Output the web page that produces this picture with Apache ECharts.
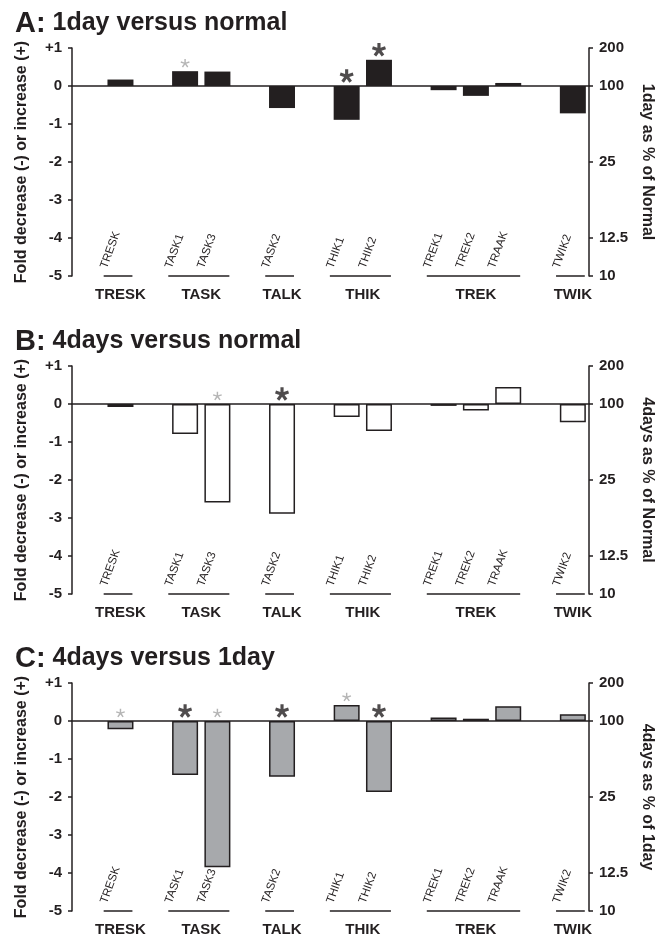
<!DOCTYPE html>
<html>
<head>
<meta charset="utf-8">
<script src="https://cdn.jsdelivr.net/npm/echarts@6/dist/echarts.min.js"></script>
<style>
    html, body { margin: 0; padding: 0; background: #fff; }
    #chart { width: 664px; height: 939px; }
</style>
</head>
<body>
<div id="chart"></div>
<script>
// category slots (blank ones are the gaps between families)
const slots = ['', 'TRESK', '', 'TASK1', 'TASK3', '', 'TASK2', '', 'THIK1', 'THIK2', '', 'TREK1', 'TREK2', 'TRAAK', '', 'TWIK2'];
const genes = ['TRESK', 'TASK1', 'TASK3', 'TASK2', 'THIK1', 'THIK2', 'TREK1', 'TREK2', 'TRAAK', 'TWIK2'];

// families drawn under the genes
const groupNames = ['TRESK', 'TASK', 'TALK', 'THIK', 'TREK', 'TWIK'];
const groupFirst = ['TRESK', 'TASK1', 'TASK2', 'THIK1', 'TREK1', 'TWIK2'];
const groupLast = ['TRESK', 'TASK3', 'TASK2', 'THIK2', 'TRAAK', 'TWIK2'];

// right axis tick labels
const rightTickValues = [1, 0, -2, -4, -5];
const rightTickLabels = ['200', '100', '25', '12.5', '10'];

// fold change values (0 = none, 1 = grey star, 2 = black star)
const oneDayVsNormal = [0.17, 0.39, 0.38, -0.58, -0.89, 0.69, -0.11, -0.26, 0.08, -0.72];
const oneDayVsNormalSig = [0, 1, 0, 0, 2, 2, 0, 0, 0, 0];
const fourDaysVsNormal = [-0.08, -0.79, -2.59, -2.89, -0.34, -0.71, -0.05, -0.17, 0.45, -0.48];
const fourDaysVsNormalSig = [0, 0, 1, 2, 0, 0, 0, 0, 0, 0];
const fourDaysVsOneDay = [-0.22, -1.42, -3.85, -1.47, 0.42, -1.87, 0.09, 0.06, 0.39, 0.18];
const fourDaysVsOneDaySig = [1, 2, 1, 2, 1, 2, 0, 0, 0, 0];

const panelLetters = ['A:', 'B:', 'C:'];
const panelTitles = ['1day versus normal', '4days versus normal', '4days versus 1day'];
const rightNames = ['1day as % of Normal', '4days as % of Normal', '4days as % of 1day'];

const INK = '#231f20';
const FONT = '"Liberation Sans", Arial, Helvetica, sans-serif';
const gridTops = [48, 366, 683];

renderChart();

function asteriskPath(armHalf) {
    // 5 armed asterisk, radius 10
    const r = 10;
    let pts = [];
    for (let k = 0; k < 5; k++) {
        const a = (-90 + 72 * k) * Math.PI / 180;
        const ca = Math.cos(a), sa = Math.sin(a);
        const px = -sa, py = ca;
        pts.push([r * ca - armHalf * px, r * sa - armHalf * py]);
        pts.push([r * ca + armHalf * px, r * sa + armHalf * py]);
        const b = a + 36 * Math.PI / 180;
        const d = armHalf / Math.sin(36 * Math.PI / 180);
        pts.push([d * Math.cos(b), d * Math.sin(b)]);
    }
    return 'path://M' + pts.map(p => p[0].toFixed(2) + ' ' + p[1].toFixed(2)).join(' L') + ' Z';
}

function renderChart() {
    let chart = echarts.init(document.getElementById('chart'));

    const panels = [
        {values: oneDayVsNormal, sig: oneDayVsNormalSig, fill: INK, border: 0},
        {values: fourDaysVsNormal, sig: fourDaysVsNormalSig, fill: '#ffffff', border: 1.5},
        {values: fourDaysVsOneDay, sig: fourDaysVsOneDaySig, fill: '#a7a9ac', border: 1.5}
    ];

    const blackStar = asteriskPath(2.3);
    const greyStar = asteriskPath(1.6);

    let title = [], grid = [], xAxis = [], yAxis = [], series = [];

    panels.forEach(function (panel, i) {
        title.push({
            text: '{a|' + panelLetters[i] + '} ' + panelTitles[i],
            left: 10,
            top: gridTops[i] - 44,
            textStyle: {
                fontFamily: FONT, fontSize: 25, fontWeight: 'bold', color: INK,
                rich: {a: {fontFamily: FONT, fontSize: 29, fontWeight: 'bold', color: INK}}
            }
        });

        grid.push({left: 72, right: 75, top: gridTops[i], height: 228});

        xAxis.push({
            gridIndex: i,
            type: 'category',
            data: slots,
            axisLine: {onZero: true, lineStyle: {color: INK, width: 1.5}},
            axisTick: {show: false},
            axisLabel: {show: false},
            splitLine: {show: false}
        });

        yAxis.push({
            gridIndex: i,
            type: 'value',
            position: 'left',
            min: -5, max: 1, interval: 1,
            name: 'Fold decrease (-) or increase (+)',
            nameLocation: 'middle',
            nameRotate: 90,
            nameGap: 42,
            nameTextStyle: {fontFamily: FONT, fontSize: 16, fontWeight: 'bold', color: INK},
            axisLine: {show: true, onZero: false, lineStyle: {color: INK, width: 1.5}},
            axisTick: {show: true, length: 4, lineStyle: {color: INK, width: 1.5}},
            axisLabel: {
                fontFamily: FONT, fontSize: 15, fontWeight: 'bold', color: INK, margin: 10,
                formatter: v => v > 0 ? '+' + v : String(v)
            },
            splitLine: {show: false}
        });

        yAxis.push({
            gridIndex: i,
            type: 'value',
            position: 'right',
            min: -5, max: 1, interval: 1,
            name: rightNames[i],
            nameLocation: 'middle',
            nameRotate: -90,
            nameGap: 49,
            nameTextStyle: {fontFamily: FONT, fontSize: 16, fontWeight: 'bold', color: INK},
            axisLine: {show: true, onZero: false, lineStyle: {color: INK, width: 1.5}},
            axisTick: {show: true, length: 4, customValues: rightTickValues, lineStyle: {color: INK, width: 1.5}},
            axisLabel: {
                fontFamily: FONT, fontSize: 15, fontWeight: 'bold', color: INK, margin: 10,
                customValues: rightTickValues,
                formatter: v => rightTickLabels[rightTickValues.indexOf(v)]
            },
            splitLine: {show: false}
        });

        // bars
        series.push({
            type: 'bar',
            xAxisIndex: i,
            yAxisIndex: 2 * i,
            barWidth: 26,
            data: genes.map((g, j) => [slots.indexOf(g), panel.values[j]]),
            itemStyle: {color: panel.fill, borderColor: INK, borderWidth: panel.border}
        });

        // significance stars
        let stars = [];
        genes.forEach(function (g, j) {
            if (panel.sig[j] === 0) return;
            const black = panel.sig[j] === 2;
            stars.push({
                value: [slots.indexOf(g), Math.max(panel.values[j], 0)],
                symbol: black ? blackStar : greyStar,
                symbolSize: black ? 14 : 9,
                symbolOffset: [0, black ? -10 : -8],
                itemStyle: {color: black ? INK : '#a3a3a3'}
            });
        });
        series.push({
            type: 'scatter',
            xAxisIndex: i,
            yAxisIndex: 2 * i,
            symbolKeepAspect: true,
            data: stars,
            z: 5
        });

        // rotated gene names
        series.push({
            type: 'custom',
            xAxisIndex: i,
            yAxisIndex: 2 * i,
            data: genes.map(g => [slots.indexOf(g), -5]),
            renderItem: function (params, api) {
                const p = api.coord([api.value(0), api.value(1)]);
                return {
                    type: 'text',
                    x: p[0] - 11,
                    y: p[1] - 6,
                    rotation: 70 * Math.PI / 180,
                    style: {
                        text: slots[api.value(0)],
                        fill: INK,
                        fontFamily: FONT,
                        fontSize: 11.5,
                        align: 'left',
                        verticalAlign: 'bottom'
                    }
                };
            }
        });

        // family underlines + names
        series.push({
            type: 'custom',
            xAxisIndex: i,
            yAxisIndex: 2 * i,
            encode: {x: [0, 1], y: 2},
            data: groupNames.map((n, k) => [slots.indexOf(groupFirst[k]), slots.indexOf(groupLast[k]), -5]),
            renderItem: function (params, api) {
                const p1 = api.coord([api.value(0), api.value(2)]);
                const p2 = api.coord([api.value(1), api.value(2)]);
                const w = api.size([1, 0])[0];
                return {
                    type: 'group',
                    children: [{
                        type: 'line',
                        shape: {x1: p1[0] - 0.52 * w, y1: p1[1], x2: p2[0] + 0.37 * w, y2: p1[1]},
                        style: {stroke: INK, lineWidth: 1.5}
                    }, {
                        type: 'text',
                        x: (p1[0] + p2[0]) / 2,
                        y: p1[1] + 19,
                        style: {
                            text: groupNames[params.dataIndex],
                            fill: INK,
                            fontFamily: FONT,
                            fontSize: 15,
                            fontWeight: 'bold',
                            align: 'center',
                            verticalAlign: 'middle'
                        }
                    }]
                };
            }
        });
    });

    let option = {
        animation: false,
        backgroundColor: '#ffffff',
        title: title,
        grid: grid,
        xAxis: xAxis,
        yAxis: yAxis,
        series: series
    };

    chart.setOption(option);
}
</script>
</body>
</html>
